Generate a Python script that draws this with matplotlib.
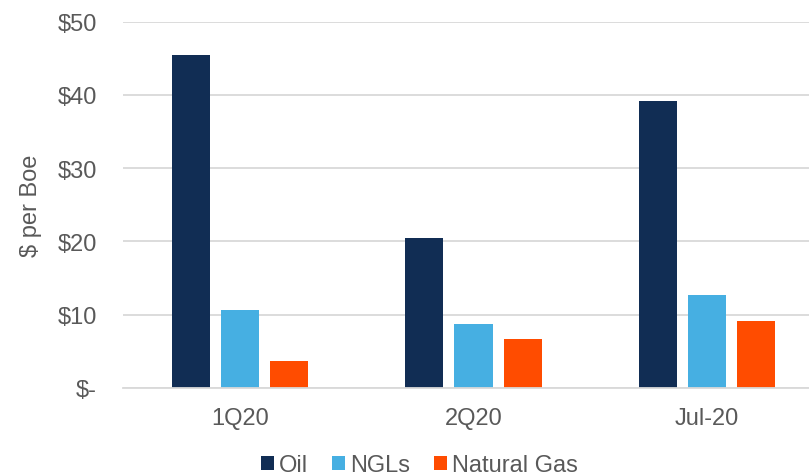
import matplotlib.pyplot as plt
import numpy as np

# realized prices by period, $ per Boe
periods = ["1Q20", "2Q20", "Jul-20"]
oil = [45.4, 20.4, 39.1]
ngls = [10.6, 8.7, 12.6]
natural_gas = [3.6, 6.6, 9.1]

series = [("Oil", oil, "#112D54"),
          ("NGLs", ngls, "#46AFE2"),
          ("Natural Gas", natural_gas, "#FF4C00")]

plt.rcParams["font.family"] = ["Liberation Sans", "DejaVu Sans"]
text_color = "#595959"
grid_color = "#D9D9D9"
fs = 17

fig = plt.figure(figsize=(8.09, 4.77), dpi=100)
ax = fig.add_axes([123 / 809, 1 - 388.7 / 477, (824 - 123) / 809, (388.7 - 22.7) / 477])

x = np.arange(len(periods))
width = 0.163
step = 0.21
for k, (name, vals, color) in enumerate(series):
    ax.bar(x + (k - 1) * step, vals, width, color=color, label=name, zorder=3)

ax.set_xlim(-0.5, 2.5)
ax.set_ylim(0, 50)
ax.set_yticks(range(0, 51, 10))
ax.set_yticklabels(["$-"] + [f"${v}" for v in range(10, 51, 10)])
ax.set_xticks(x)
ax.set_xticklabels(periods)

ax.grid(axis="y", color=grid_color, linewidth=1.3, zorder=0)
for side in ["top", "right", "left"]:
    ax.spines[side].set_visible(False)
ax.spines["bottom"].set_color(grid_color)
ax.spines["bottom"].set_linewidth(1.3)
ax.spines["bottom"].set_zorder(4)

ax.tick_params(axis="y", length=0, pad=19, labelsize=fs, labelcolor=text_color)
ax.tick_params(axis="x", length=0, pad=14, labelsize=fs, labelcolor=text_color)
ax.set_ylabel("$ per Boe", fontsize=fs, color=text_color, labelpad=11)

fig.legend(loc="center", bbox_to_anchor=(419.5 / 809, 1 - 466 / 477), ncol=3,
           frameon=False, fontsize=fs, labelcolor=text_color,
           handlelength=0.55, handleheight=0.55, handletextpad=0.22,
           columnspacing=1.0, borderpad=0)

fig.savefig("out.png", dpi=100)
